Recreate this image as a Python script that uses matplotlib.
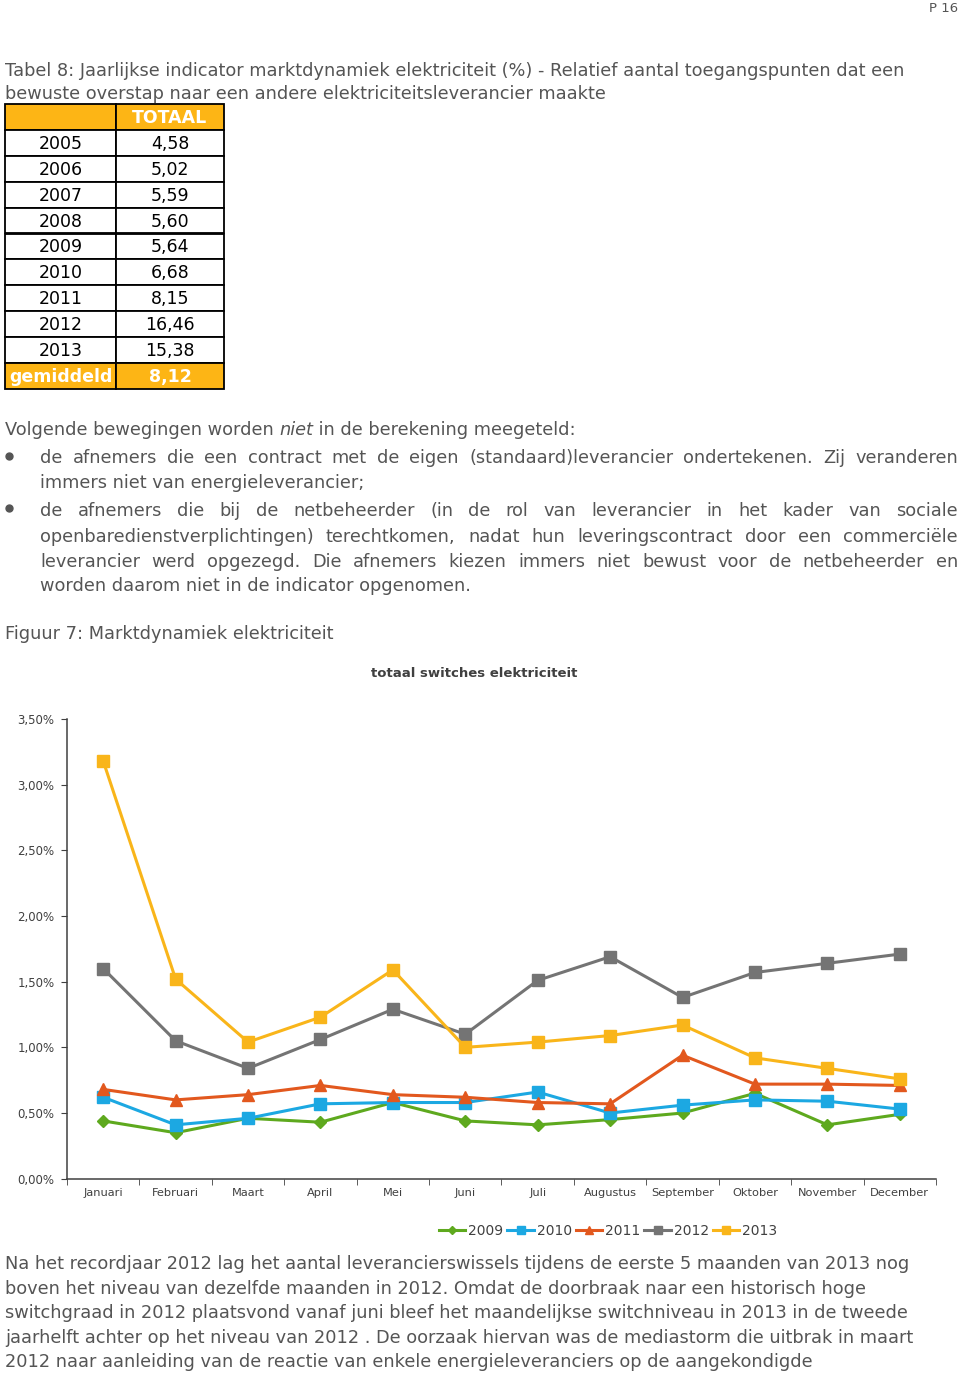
import matplotlib
matplotlib.use("Agg")
import matplotlib.pyplot as plt
from matplotlib.patches import Rectangle

# tabel 8: jaarlijkse indicator (%)
jaren = ["2005", "2006", "2007", "2008", "2009", "2010", "2011", "2012", "2013"]
totaal = [4.58, 5.02, 5.59, 5.60, 5.64, 6.68, 8.15, 16.46, 15.38]
gemiddeld = 8.12

# figuur 7: maandelijkse switches (%)
maanden = ["Januari", "Februari", "Maart", "April", "Mei", "Juni", "Juli",
           "Augustus", "September", "Oktober", "November", "December"]
s2009 = [0.44, 0.35, 0.46, 0.43, 0.58, 0.44, 0.41, 0.45, 0.50, 0.65, 0.41, 0.49]
s2010 = [0.62, 0.41, 0.46, 0.57, 0.58, 0.58, 0.66, 0.50, 0.56, 0.60, 0.59, 0.53]
s2011 = [0.68, 0.60, 0.64, 0.71, 0.64, 0.62, 0.58, 0.57, 0.94, 0.72, 0.72, 0.71]
s2012 = [1.60, 1.05, 0.84, 1.06, 1.29, 1.10, 1.51, 1.69, 1.38, 1.57, 1.64, 1.71]
s2013 = [3.18, 1.52, 1.04, 1.23, 1.59, 1.00, 1.04, 1.09, 1.17, 0.92, 0.84, 0.76]
reeksen = ["2009", "2010", "2011", "2012", "2013"]

grijs = "#555555"
oranje = "#FDB515"
fs = 12.8

fig = plt.figure(figsize=(9.6, 13.76), dpi=100)
page = fig.add_axes([0, 0, 1, 1])
page.set_xlim(0, 960)
page.set_ylim(1376, 0)
page.axis("off")
renderer = fig.canvas.get_renderer()


def breedte(t):
    return t.get_window_extent(renderer).width


def regel(x, y, s, size=fs, **kw):
    return page.text(x, y, s, fontsize=size, color=grijs, va="baseline", **kw)


def uitgevuld(x0, x1, y, s, size=fs):
    woorden = s.split()
    ts = [regel(0, y, w, size) for w in woorden]
    ws = [breedte(t) for t in ts]
    gap = (x1 - x0 - sum(ws)) / (len(woorden) - 1)
    x = x0
    for t, w in zip(ts, ws):
        t.set_x(x)
        x += w + gap


# paginanummer
regel(958, 12, "P 16", size=9.5, ha="right")

# titel tabel
regel(5, 76, "Tabel 8: Jaarlijkse indicator marktdynamiek elektriciteit (%) - Relatief aantal toegangspunten dat een")
regel(5, 99, "bewuste overstap naar een andere elektriciteitsleverancier maakte")

# tabel
top, rh = 104, 25.9
xl, xm, xr = 5, 116, 224
rijen = [("", "TOTAAL")] + [(j, f"{v:.2f}".replace(".", ",")) for j, v in zip(jaren, totaal)] \
    + [("gemiddeld", f"{gemiddeld:.2f}".replace(".", ","))]
for i, (a, b) in enumerate(rijen):
    y0 = top + i * rh
    kop = i == 0 or i == len(rijen) - 1
    fc = oranje if kop else "white"
    tc = "white" if kop else "black"
    fw = "bold" if kop else "normal"
    for (xa, xb), s in zip([(xl, xm), (xm, xr)], [a, b]):
        page.add_patch(Rectangle((xa, y0), xb - xa, rh, facecolor=fc, edgecolor="black", lw=1.3))
        page.text((xa + xb) / 2, y0 + rh / 2 + 1, s, fontsize=12.5, color=tc, fontweight=fw,
                  ha="center", va="center")

# tekst onder tabel
x = 5
for s, st in [("Volgende bewegingen worden ", "normal"), ("niet", "italic"),
              (" in de berekening meegeteld:", "normal")]:
    t = regel(x, 435, s, style=st)
    x += breedte(t)

for yb in [456, 508]:
    page.plot(9, yb, "o", color=grijs, markersize=5)
uitgevuld(40, 958, 463, "de afnemers die een contract met de eigen (standaard)leverancier ondertekenen. Zij veranderen")
regel(40, 488, "immers niet van energieleverancier;")
uitgevuld(40, 958, 516, "de afnemers die bij de netbeheerder (in de rol van leverancier in het kader van sociale")
uitgevuld(40, 958, 542, "openbaredienstverplichtingen) terechtkomen, nadat hun leveringscontract door een commerciële")
uitgevuld(40, 958, 567, "leverancier werd opgezegd. Die afnemers kiezen immers niet bewust voor de netbeheerder en")
regel(40, 591, "worden daarom niet in de indicator opgenomen.")

regel(5, 639, "Figuur 7: Marktdynamiek elektriciteit")
page.text(474, 677, "totaal switches elektriciteit", fontsize=9.5, fontweight="bold",
          color="#404040", ha="center", va="baseline")

# grafiek
ax = fig.add_axes([67 / 960, 1 - 1178.7 / 1376, (936 - 67) / 960, (1178.7 - 719) / 1376])
ax.patch.set_alpha(0)
xs = list(range(len(maanden)))
stijlen = [("#5EA91E", "D", 6), ("#1CA8E2", "s", 8), ("#E2581E", "^", 8),
           ("#747474", "s", 9), ("#F9B51A", "s", 9)]
for naam, vals, (c, m, ms) in zip(reeksen, [s2009, s2010, s2011, s2012, s2013], stijlen):
    ax.plot(xs, vals, color=c, marker=m, markersize=ms, lw=2.2, label=naam)

ax.set_xlim(-0.5, len(maanden) - 0.5)
ax.set_ylim(0, 3.5)
yt = [0, 0.5, 1.0, 1.5, 2.0, 2.5, 3.0, 3.5]
ax.set_yticks(yt)
ax.set_yticklabels([f"{v:.2f}".replace(".", ",") + "%" for v in yt])
ax.set_xticks(xs)
ax.set_xticklabels(maanden)
ax.set_xticks([i - 0.5 for i in range(len(maanden) + 1)], minor=True)
ax.tick_params(axis="x", which="major", length=0, pad=7, labelsize=8.2, labelcolor="#404040")
ax.tick_params(axis="x", which="minor", length=4, color="#404040")
ax.tick_params(axis="y", length=4, pad=5, labelsize=8.5, labelcolor="#404040", color="#404040")
for k in ["top", "right"]:
    ax.spines[k].set_visible(False)
for k in ["left", "bottom"]:
    ax.spines[k].set_color("#404040")
    ax.spines[k].set_linewidth(1.1)

fig.legend(loc="center", bbox_to_anchor=(608 / 960, 1 - 1231 / 1376), ncol=5, frameon=False,
           fontsize=10, handlelength=1.9, handletextpad=0.2, columnspacing=0.3, markerscale=0.7,
           labelcolor="#404040")

# tekst onder grafiek
regel(5, 1269, "Na het recordjaar 2012 lag het aantal leverancierswissels tijdens de eerste 5 maanden van 2013 nog")
regel(5, 1294, "boven het niveau van dezelfde maanden in 2012. Omdat de doorbraak naar een historisch hoge")
regel(5, 1318, "switchgraad in 2012 plaatsvond vanaf juni bleef het maandelijkse switchniveau in 2013 in de tweede")
regel(5, 1343, "jaarhelft achter op het niveau van 2012 . De oorzaak hiervan was de mediastorm die uitbrak in maart")
regel(5, 1367, "2012 naar aanleiding van de reactie van enkele energieleveranciers op de aangekondigde")

fig.savefig("out.png", dpi=100)
